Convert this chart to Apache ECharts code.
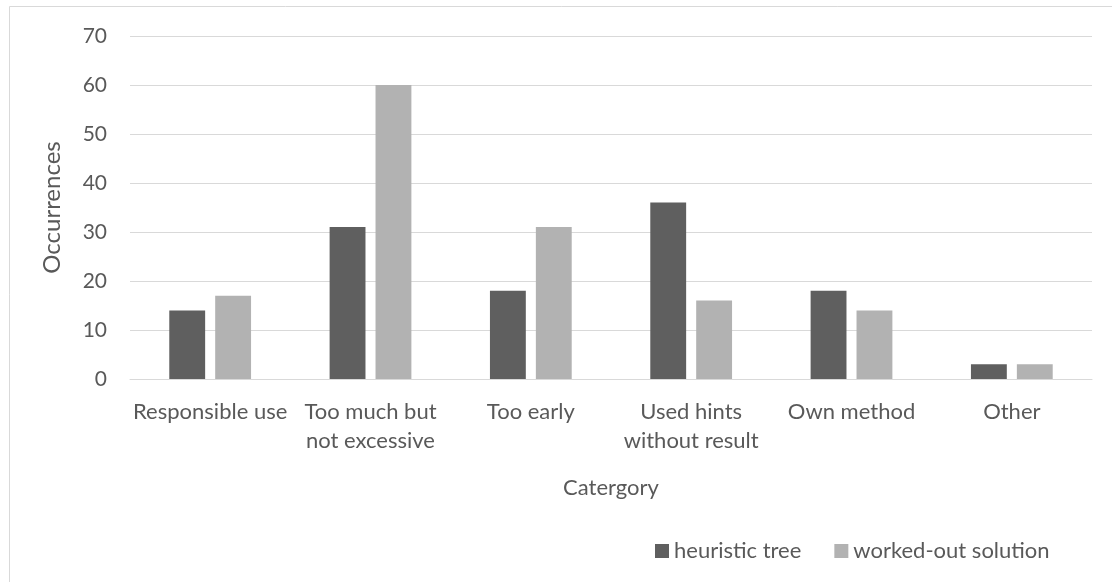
<!DOCTYPE html>
<html>
<head>
<meta charset="utf-8">
<script src="https://cdn.jsdelivr.net/npm/echarts@6/dist/echarts.min.js"></script>
<style>
  html, body { margin: 0; padding: 0; background: #ffffff; }
  #chart { width: 1112px; height: 582px; }
</style>
</head>
<body>
<div id="chart"></div>
<script>
// Hint-usage categories and how often each occurred per hint type
const categories = [
  'Responsible use',
  'Too much but\nnot excessive',
  'Too early',
  'Used hints\nwithout result',
  'Own method',
  'Other'
];
const heuristicTree = [14, 31, 18, 36, 18, 3];
const workedOutSolution = [17, 60, 31, 16, 14, 3];
const seriesNames = ['heuristic tree', 'worked-out solution'];
const yTicks = { min: 0, max: 70, interval: 10 };

const FONT = 'Lato';
const TEXT = '#595959';
const GRID = '#d9d9d9';

const chart = echarts.init(document.getElementById('chart'), null, { renderer: 'canvas' });

chart.setOption({
  backgroundColor: '#ffffff',
  animation: false,
  textStyle: { fontFamily: FONT, color: TEXT },
  graphic: [{
    type: 'rect',
    shape: { x: 9.5, y: 6.5, width: 1300, height: 700 },
    style: { fill: 'none', stroke: GRID, lineWidth: 1 },
    silent: true,
    z: -10
  }],
  grid: { left: 130, right: 20, top: 36, bottom: 203, containLabel: false },
  legend: {
    left: 650,
    top: 535,
    itemWidth: 14,
    itemHeight: 14,
    itemGap: 33,
    icon: 'rect',
    textStyle: { fontFamily: FONT, fontSize: 22, color: TEXT, lineHeight: 22 },
    data: seriesNames
  },
  xAxis: {
    type: 'category',
    data: categories,
    name: 'Catergory',
    nameLocation: 'middle',
    nameGap: 98,
    nameTextStyle: { fontFamily: FONT, fontSize: 22, color: TEXT },
    axisLine: { show: true, lineStyle: { color: GRID, width: 1 } },
    axisTick: { show: false },
    axisLabel: {
      interval: 0,
      margin: 18,
      fontFamily: FONT,
      fontSize: 22,
      lineHeight: 29,
      color: TEXT
    }
  },
  yAxis: {
    type: 'value',
    min: yTicks.min,
    max: yTicks.max,
    interval: yTicks.interval,
    name: 'Occurrences',
    nameLocation: 'middle',
    nameGap: 66,
    nameRotate: 90,
    nameTextStyle: { fontFamily: FONT, fontSize: 24, color: TEXT },
    axisLine: { show: false },
    axisTick: { show: false },
    axisLabel: { margin: 23, fontFamily: FONT, fontSize: 21, color: TEXT },
    splitLine: { show: true, lineStyle: { color: GRID, width: 1 } }
  },
  series: [
    {
      name: seriesNames[0],
      type: 'bar',
      data: heuristicTree,
      barGap: '28%',
      barCategoryGap: '49%',
      itemStyle: { color: '#5f5f5f' }
    },
    {
      name: seriesNames[1],
      type: 'bar',
      data: workedOutSolution,
      barGap: '28%',
      barCategoryGap: '49%',
      itemStyle: { color: '#b2b2b2' }
    }
  ]
});
</script>
</body>
</html>
